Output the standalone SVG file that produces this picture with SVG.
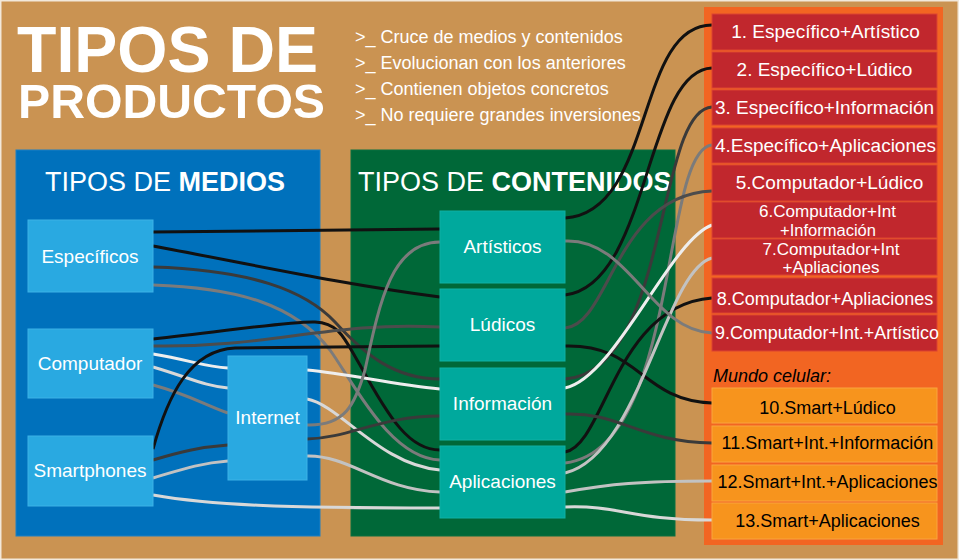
<svg xmlns="http://www.w3.org/2000/svg" width="959" height="560" viewBox="0 0 959 560">
<style>
text{font-family:"Liberation Sans",Arial,sans-serif}
.w{fill:#fff}
.b{fill:#000}
.mid{text-anchor:middle}
.med{fill:#29A9E1;stroke:#3DB2E6;stroke-width:1}
.con{fill:#00A99D;stroke:#0FB0A4;stroke-width:1}
.red{fill:#C1272D;stroke:#DC4530;stroke-width:1}
.ora{fill:#F7941D;stroke:#F9A53F;stroke-width:1}
.c{fill:none;stroke-width:3;stroke-linecap:butt}
.k{stroke:#111}
.d{stroke:#3a3a3a}
.d2{stroke:#4c4c4c}
.m{stroke:#7b7b7b}
.l{stroke:#c2c2c2}
.l2{stroke:#d8d8d8}
.wh{stroke:#eeeeee}
</style>
<rect x="0" y="0" width="959" height="560" fill="#CA9352"/>
<rect x="0.75" y="0.75" width="957.5" height="558.5" fill="none" stroke="#F2E8DA" stroke-width="1.5"/>

<g id="title">
<text x="17" y="72" class="w" font-size="64" font-weight="bold" textLength="301" lengthAdjust="spacingAndGlyphs">TIPOS DE</text>
<text x="18" y="118" class="w" font-size="48" font-weight="bold" textLength="307" lengthAdjust="spacingAndGlyphs">PRODUCTOS</text>
</g>
<g id="bullets" class="w" font-size="18">
<text x="355" y="43" class="w">&gt;_ Cruce de medios y contenidos</text>
<text x="355" y="69" class="w">&gt;_ Evolucionan con los anteriores</text>
<text x="355" y="95" class="w">&gt;_ Contienen objetos concretos</text>
<text x="355" y="121" class="w">&gt;_ No requiere grandes inversiones</text>
</g>

<g id="panel-medios">
<rect x="16" y="150" width="304" height="386" fill="#0071BC" stroke="#1C80C4" stroke-width="1"/>
<text x="45" y="191" class="w" font-size="27">TIPOS DE <tspan font-weight="bold">MEDIOS</tspan></text>
</g>
<g id="panel-contenidos">
<rect x="351" y="150" width="324" height="386" fill="#006838" stroke="#0B7040" stroke-width="1"/>
<text x="358" y="191" class="w" font-size="27">TIPOS DE <tspan font-weight="bold">CONTENIDOS</tspan></text>
</g>
<g id="panel-productos">
<rect x="704" y="7" width="239" height="538" fill="#F26522"/>
</g>

<g id="connectors">
<path class="c k" d="M153,232 L440,229"/>
<path class="c k" d="M565,218 C655,212 635,25 712,25"/>
<path class="c k" d="M153,246 C250,264 340,284 440,297"/>
<path class="c k" d="M565,295 C650,285 645,70 712,68"/>
<path class="c d" d="M153,267 C250,270 305,290 335,322 C365,355 395,379 440,379"/>
<path class="c d" d="M565,379 C670,372 655,110 712,107"/>
<path class="c m" d="M153,285 C240,288 295,305 330,350 C355,385 390,458 440,460"/>
<path class="c m" d="M565,463 C680,450 660,150 712,145"/>
<path class="c k" d="M153,339 C220,332 290,321 315,322 C340,323 345,340 360,365 C390,420 410,450 440,450"/>
<path class="c k" d="M565,452 C605,445 615,305 712,298"/>
<path class="c d2" d="M153,346 C270,348 330,321 440,327"/>
<path class="c d2" d="M565,328 C610,325 615,195 712,191"/>
<path class="c wh" d="M153,354 C190,360 205,367 228,368"/>
<path class="c l2" d="M153,367 C190,378 205,386 228,388"/>
<path class="c m" d="M153,385 C190,395 205,405 228,413"/>
<path class="c k" d="M153,449 C168,395 190,350 235,348 L440,346"/>
<path class="c k" d="M565,346 C640,344 640,400 712,403"/>
<path class="c wh" d="M307,370 C350,374 390,384 440,389"/>
<path class="c wh" d="M565,388 C615,378 670,240 712,225"/>
<path class="c l2" d="M307,399 C340,405 380,465 440,470"/>
<path class="c l" d="M565,473 C640,455 665,270 712,258"/>
<path class="c m" d="M307,425 C345,426 355,405 365,370 C380,300 392,242 440,242"/>
<path class="c m" d="M565,241 C630,238 650,330 712,333"/>
<path class="c d" d="M307,439 C350,438 380,416 440,416"/>
<path class="c d" d="M565,414 C620,412 640,442 712,443"/>
<path class="c l" d="M307,456 C350,455 380,490 440,492"/>
<path class="c l" d="M565,492 C610,484 640,481 712,481"/>
<path class="c d" d="M153,460 C180,452 200,447 228,445"/>
<path class="c l" d="M153,478 C180,470 200,463 228,461"/>
<path class="c l2" d="M153,495 C210,505 280,508 440,508"/>
<path class="c l2" d="M565,507 C620,505 630,520 712,520"/>
</g>

<g id="especificos"><rect class="med" x="28" y="220" width="125" height="72"/><text x="90" y="263" class="w mid" font-size="19">Específicos</text></g>
<g id="computador"><rect class="med" x="28" y="329" width="125" height="69"/><text x="90" y="370" class="w mid" font-size="19">Computador</text></g>
<g id="smartphones"><rect class="med" x="28" y="436" width="125" height="70"/><text x="90" y="477" class="w mid" font-size="19">Smartphones</text></g>
<g id="internet"><rect class="med" x="228" y="356" width="79" height="124"/><text x="267.5" y="424" class="w mid" font-size="19">Internet</text></g>

<g id="artisticos"><rect class="con" x="440" y="211" width="125" height="72"/><text x="502.5" y="253" class="w mid" font-size="19">Artísticos</text></g>
<g id="ludicos"><rect class="con" x="440" y="289" width="125" height="72"/><text x="502.5" y="331" class="w mid" font-size="19">Lúdicos</text></g>
<g id="informacion"><rect class="con" x="440" y="368" width="125" height="72"/><text x="502.5" y="410" class="w mid" font-size="19">Información</text></g>
<g id="aplicaciones"><rect class="con" x="440" y="446" width="125" height="72"/><text x="502.5" y="488" class="w mid" font-size="19">Aplicaciones</text></g>

<g id="p1"><rect class="red" x="712" y="14" width="225" height="36"/><text x="825.5" y="38" class="w mid" font-size="19">1. Específico+Artístico</text></g>
<g id="p2"><rect class="red" x="712" y="52" width="225" height="36"/><text x="824.5" y="76" class="w mid" font-size="19">2. Específico+Lúdico</text></g>
<g id="p3"><rect class="red" x="712" y="90" width="225" height="35"/><text x="824.5" y="114" class="w mid" font-size="19">3. Específico+Información</text></g>
<g id="p4"><rect class="red" x="712" y="128" width="225" height="35"/><text x="825.5" y="152" class="w mid" font-size="19" textLength="221" lengthAdjust="spacingAndGlyphs">4.Específico+Aplicaciones</text></g>
<g id="p5"><rect class="red" x="712" y="165" width="225" height="36"/><text x="829.5" y="189" class="w mid" font-size="19">5.Computador+Lúdico</text></g>
<g id="p6"><rect class="red" x="712" y="202" width="225" height="36"/><text x="827.5" y="217" class="w mid" font-size="16" textLength="137" lengthAdjust="spacingAndGlyphs">6.Computador+Int</text><text x="828" y="236" class="w mid" font-size="16" textLength="96" lengthAdjust="spacingAndGlyphs">+Información</text></g>
<g id="p7"><rect class="red" x="712" y="239" width="225" height="36"/><text x="831" y="254.5" class="w mid" font-size="16" textLength="137" lengthAdjust="spacingAndGlyphs">7.Computador+Int</text><text x="831" y="272.5" class="w mid" font-size="16" textLength="97" lengthAdjust="spacingAndGlyphs">+Apliaciones</text></g>
<g id="p8"><rect class="red" x="712" y="278" width="225" height="35"/><text x="825" y="305" class="w mid" font-size="18">8.Computador+Apliaciones</text></g>
<g id="p9"><rect class="red" x="712" y="315" width="225" height="36"/><text x="827" y="339" class="w mid" font-size="18" textLength="224" lengthAdjust="spacingAndGlyphs">9.Computador+Int.+Artístico</text></g>

<text x="713" y="382" class="b" font-size="18" font-style="italic">Mundo celular:</text>
<g id="p10"><rect class="ora" x="712" y="388" width="225" height="35"/><text x="827.5" y="414" class="b mid" font-size="18">10.Smart+Lúdico</text></g>
<g id="p11"><rect class="ora" x="712" y="426" width="225" height="36"/><text x="827.5" y="449" class="b mid" font-size="18">11.Smart+Int.+Información</text></g>
<g id="p12"><rect class="ora" x="712" y="465" width="225" height="36"/><text x="827.5" y="488" class="b mid" font-size="18">12.Smart+Int.+Aplicaciones</text></g>
<g id="p13"><rect class="ora" x="712" y="503" width="225" height="36"/><text x="827.5" y="527" class="b mid" font-size="18">13.Smart+Aplicaciones</text></g>
</svg>
